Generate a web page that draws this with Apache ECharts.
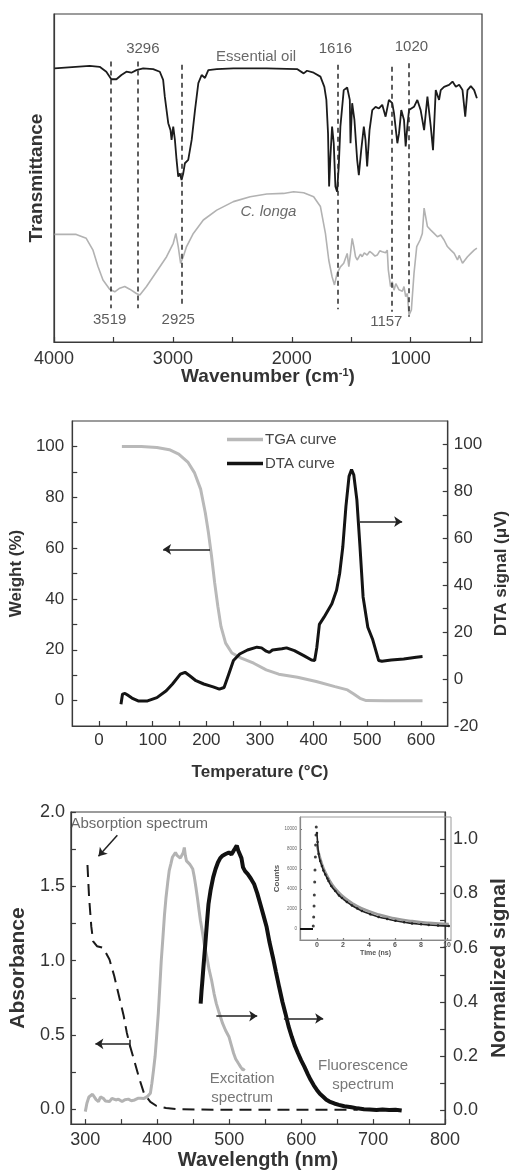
<!DOCTYPE html>
<html><head><meta charset="utf-8">
<script src="https://cdn.jsdelivr.net/npm/echarts@6/dist/echarts.min.js"></script>
<style>html,body{margin:0;padding:0;background:#fff}#c{width:518px;height:1171px}</style>
</head><body><div id="c"></div>
<script>
// ---------- Panel 1: FTIR (wavenumber cm-1, transmittance a.u.) ----------
const oilSpectrum = [[3996,83.4],[3700,84.2],[3616,83.9],[3560,82.4],[3518,80.1],[3475,80.1],[3433,81.4],[3391,82.4],[3349,82.1],[3307,82.9],[3250,83.4],[3166,83.2],[3110,82.4],[3082,79.9],[3068,74.8],[3039,66.7],[3020,64.6],[3011,61.6],[2997,65.7],[2983,61.6],[2969,55.5],[2955,50.4],[2941,51.4],[2927,49.4],[2913,51.4],[2899,54.5],[2871,55.5],[2842,61.6],[2814,70.7],[2786,78.9],[2758,81.4],[2730,80.5],[2702,82.9],[2631,83.2],[2491,83.4],[2210,83.4],[1956,83.2],[1900,81.9],[1872,82.7],[1816,82.1],[1759,80.9],[1726,77.8],[1709,73.8],[1695,63.6],[1686,47.4],[1675,56.5],[1661,65.7],[1647,60.6],[1633,47.4],[1619,45.8],[1605,53.5],[1591,65.7],[1563,76.8],[1534,77.6],[1512,73.8],[1506,60.6],[1492,72.8],[1473,67.7],[1450,55.5],[1436,50.9],[1416,58.5],[1394,65.7],[1380,61.6],[1366,53.5],[1346,64.6],[1323,70.7],[1295,71.7],[1267,71.2],[1239,72.3],[1211,68.7],[1183,73.8],[1155,72.8],[1140,69.7],[1112,60.6],[1098,63.6],[1079,70.7],[1056,67.7],[1042,59.6],[1028,65.7],[1014,70.7],[972,71.7],[944,73.8],[916,70.7],[887,64.6],[859,74.8],[831,65.7],[812,58.5],[789,76.8],[761,73.8],[747,76.8],[719,77.8],[677,78.4],[648,79.4],[620,77.8],[592,78.4],[564,76.8],[541,68.7],[522,76.8],[494,78.0],[466,76.8],[443,74.3]];
const longaSpectrum = [[3996,32.8],[3813,32.8],[3729,31.6],[3672,28.0],[3630,23.0],[3588,18.9],[3532,16.1],[3489,15.3],[3447,16.4],[3405,16.9],[3363,16.1],[3307,14.8],[3278,14.3],[3222,16.9],[3138,21.4],[3053,26.0],[2997,30.1],[2975,33.1],[2955,29.1],[2935,24.0],[2913,26.0],[2885,29.1],[2828,33.1],[2744,37.2],[2631,40.2],[2491,42.8],[2350,44.3],[2210,45.1],[2069,45.3],[1985,45.8],[1900,45.5],[1816,44.3],[1759,41.3],[1717,33.1],[1689,25.0],[1661,19.9],[1641,17.4],[1619,20.9],[1591,22.9],[1563,24.0],[1534,27.0],[1520,23.0],[1506,27.0],[1492,31.6],[1478,29.1],[1464,26.0],[1450,25.0],[1436,25.5],[1422,26.8],[1408,26.0],[1390,27.2],[1366,26.5],[1345,27.6],[1323,27.0],[1300,26.2],[1281,26.5],[1260,27.8],[1239,27.5],[1211,27.2],[1197,28.0],[1188,22.0],[1169,16.9],[1155,18.4],[1140,15.8],[1125,17.8],[1112,17.4],[1098,15.9],[1084,16.4],[1070,15.5],[1056,16.9],[1042,13.8],[1028,14.8],[1014,8.2],[994,9.8],[972,20.9],[949,29.1],[921,31.1],[902,33.1],[887,40.8],[873,41.3],[859,35.2],[845,34.6],[831,34.1],[803,33.1],[775,32.1],[747,32.6],[719,31.1],[691,29.1],[662,28.0],[634,27.0],[606,25.0],[592,26.4],[578,26.0],[564,24.0],[550,24.5],[522,26.0],[494,27.0],[466,28.0],[443,28.6]];
const peakWavenumbers = [3519, 3296, 2925, 1616, 1157, 1020];
const peakLineTop = [85.5, 85.5, 84.5, 84.5, 83.9, 85.0];
const peakLineBottom = [10.3, 10.3, 10.8, 10.0, 9.2, 7.7];
const ftirTicks = [500,1000,1500,2000,2500,3000,3500,4000];
const ftirLabels = [1000,2000,3000,4000];

// ---------- Panel 2: TGA / DTA ----------
const tgaCurve = [[42.5,100],[78.6,100],[107.8,99.6],[131,98.7],[148.5,97],[166,93.7],[177.7,89.7],[189.3,83.2],[198,73.9],[203.9,66],[209.7,56.8],[215.5,46.3],[221.4,37.1],[227.2,29.2],[235.9,22.6],[247.6,18.7],[265,16.7],[288.3,14.7],[311.6,12.1],[335,10.4],[369.9,9.2],[404.9,7.5],[439.8,5.5],[463.1,4.2],[474.8,2.6],[486.4,0.9],[498,0],[533,-0.1],[603,-0.1]];
const dtaCurve = [[40.8,-10.7],[43.7,-6.4],[48.3,-6.1],[52.4,-6.7],[61.2,-8.1],[72.8,-9.3],[90.3,-9.3],[107.8,-7.9],[125.2,-5],[136.9,-2.1],[151.5,2.1],[160.2,2.9],[168.9,1.4],[180.6,-0.7],[195.1,-2.1],[212.6,-3.3],[224.3,-4.3],[233,-3.6],[241.7,2.1],[250.5,7.9],[262.1,10.7],[276.7,12.4],[294.2,13.6],[302.9,13.3],[311.6,11.9],[317.5,11.4],[323.3,12.4],[340.8,12.9],[349.5,13.3],[364.1,12.1],[381.6,10],[396.1,8.1],[401.9,7.9],[406,13.6],[410.7,23.3],[419.4,26.4],[434,32.1],[442.7,37.9],[448.5,45],[454.4,56.4],[460.2,73.6],[466,86.4],[470.7,89.3],[474.8,87.1],[480.6,76.4],[486.4,56.4],[492.2,35],[501,22.1],[509.7,17.1],[521.3,7.9],[527.2,7.6],[544.6,8.1],[567.9,8.6],[591.2,9.3],[603,9.6]];
const tempTicks = [0,50,100,150,200,250,300,350,400,450,500,550,600];
const tempLabels = [0,100,200,300,400,500,600];
const weightTicks = [0,10,20,30,40,50,60,70,80,90,100];
const weightLabels = [0,20,40,60,80,100];
const dtaTicks = [-10,0,10,20,30,40,50,60,70,80,90,100];
const dtaLabels = [-20,0,20,40,60,80,100];

// ---------- Panel 3: optical spectra ----------
const absorption = [[303,1.643],[305.2,1.43],[308.3,1.23],[310.9,1.13],[316.2,1.097],[324.9,1.086],[333.6,1.008],[340.2,0.896],[346.7,0.763],[353.3,0.629],[357.6,0.517],[362,0.428],[368.6,0.317],[375.1,0.205],[381.7,0.105],[390.4,0.049],[399.1,0.022],[412.2,0.009],[429.7,0],[503.9,-0.004],[678.6,-0.004]];
const excitation = [[300,-0.004],[302.2,0.027],[305,0.05],[307.4,0.045],[310,0.06],[312.7,0.058],[315,0.04],[318.3,0.033],[321,0.05],[324.9,0.045],[328,0.035],[333.6,0.033],[337,0.045],[342.4,0.039],[346,0.042],[351.1,0.033],[355,0.04],[359.8,0.042],[364,0.036],[368.6,0.039],[373,0.045],[377.3,0.045],[381,0.044],[386,0.051],[390.4,0.064],[392.5,0.1],[394.8,0.149],[397,0.2],[399.1,0.272],[401.5,0.36],[403.5,0.455],[405.5,0.55],[407.9,0.639],[410,0.72],[412.2,0.786],[414.5,0.84],[416.6,0.884],[419,0.91],[421,0.933],[423,0.94],[425.3,0.951],[427.5,0.94],[429.7,0.945],[432,0.93],[434.1,0.927],[436,0.95],[437.6,0.969],[439,0.94],[440.6,0.92],[443,0.915],[445,0.908],[447,0.9],[449.3,0.89],[451.5,0.86],[453.7,0.823],[456,0.78],[458.1,0.737],[460,0.7],[462.4,0.663],[465.5,0.61],[469,0.565],[472,0.52],[475.5,0.48],[479,0.43],[482.1,0.394],[486,0.36],[490.8,0.321],[495,0.295],[499.6,0.272],[503,0.24],[506.1,0.211],[509,0.19],[512.7,0.174],[516,0.16],[519.2,0.149],[521.4,0.155]];
const fluorescence = [[460.3,0.394],[461.5,0.44],[462.4,0.468],[464.5,0.54],[466.8,0.614],[469,0.69],[471.2,0.761],[474,0.81],[477.7,0.859],[481,0.89],[484.3,0.914],[487.5,0.93],[490.8,0.939],[495,0.945],[499.6,0.951],[503,0.944],[506.1,0.957],[508,0.965],[510.5,0.976],[512.5,0.958],[514.8,0.951],[517,0.93],[519.2,0.896],[522,0.882],[525.8,0.871],[530,0.855],[534.5,0.835],[539,0.8],[543.2,0.761],[547.5,0.72],[552,0.676],[556,0.62],[560.7,0.565],[565,0.51],[569.4,0.455],[574,0.4],[578.2,0.357],[582.5,0.31],[586.9,0.272],[591,0.24],[595.6,0.211],[600,0.185],[604.4,0.162],[609,0.135],[613.1,0.113],[617.5,0.093],[621.8,0.076],[626,0.062],[630.6,0.051],[635,0.04],[639.3,0.033],[646,0.026],[652.4,0.021],[660,0.016],[669.9,0.012],[678,0.008],[687.3,0.005],[695,0.004],[704.8,0.002],[713,0.004],[722.3,0.002],[731,0.003],[739.7,0]];
const wlTicks = [300,350,400,450,500,550,600,650,700,750,800];
const wlLabels = [300,400,500,600,700,800];
const absTicks = [0,0.25,0.5,0.75,1,1.25,1.5,1.75,2];
const absLabels = [0,0.5,1,1.5,2];
const normTicks = [0,0.1,0.2,0.3,0.4,0.5,0.6,0.7,0.8,0.9,1];
const normLabels = [0,0.2,0.4,0.6,0.8,1];

// ---------- Inset: fluorescence decay ----------
const decayBaseline = [[-1.3,0],[-0.3,0]];
const decayRise = [[-0.28,300],[-0.25,1200],[-0.22,2300],[-0.2,3400],[-0.17,4700],[-0.15,5900],[-0.12,7200],[-0.1,8400],[-0.07,9400],[-0.05,10200]];
const decayData = [[0,9600],[0.05,8700],[0.13,7500],[0.25,6800],[0.38,6300],[0.5,5850],[0.64,5450],[0.8,5050],[0.89,4800],[1.1,4300],[1.41,3800],[1.7,3350],[1.92,3100],[2.3,2700],[2.69,2350],[3.1,2050],[3.46,1800],[4.1,1480],[4.74,1200],[5.4,1000],[6.03,820],[6.7,680],[7.31,560],[8,470],[8.59,400],[9.3,340],[10.13,290]];
const decayFit = [[0,8300],[0.25,7100],[0.5,6100],[0.8,5300],[1.1,4600],[1.41,4050],[1.92,3350],[2.69,2600],[3.46,2050],[4.74,1450],[6.03,1050],[7.31,790],[8.59,620],[10.13,500]];
const timeTicks = [0,2,4,6,8,10];
const countTicks = [0,2000,4000,6000,8000,10000];

const FONT = '"Liberation Sans", Arial, Helvetica, sans-serif';
const AXC = '#3a3a3a';
const TXT = '#333';

function axis(o) {
  const a = {
    type: 'value', gridIndex: o.grid, min: o.min, max: o.max, inverse: !!o.inverse,
    position: o.position,
    axisLine: {show: true, onZero: false, lineStyle: {color: o.lineColor || AXC, width: 1.2}},
    axisTick: {show: o.ticks !== null, inside: true, length: o.tickLen || 5, customValues: o.ticks || undefined,
      lineStyle: {color: o.lineColor || AXC, width: 1.2}},
    axisLabel: {show: !!o.labels, customValues: o.labels || undefined, showMinLabel: true, showMaxLabel: true,
      margin: o.margin == null ? 7 : o.margin, color: o.labelColor || TXT, fontFamily: FONT, fontSize: o.fontSize || 17,
      fontWeight: o.labelWeight || 'normal', formatter: o.fmt || (v => String(v))},
    splitLine: {show: false},
    name: o.name, nameLocation: 'middle', nameGap: o.nameGap, nameRotate: o.nameRotate,
    nameTextStyle: Object.assign({fontFamily: FONT, fontWeight: 'bold', fontSize: o.nameSize || 19, color: TXT}, o.nameStyle || {})
  };
  if (o.noMove) a.nameMoveOverlap = false;
  return a;
}

function textSeries(xi, yi, items) {
  return {
    type: 'scatter', xAxisIndex: xi, yAxisIndex: yi, symbol: 'circle', symbolSize: 1, silent: true, z: 6,
    itemStyle: {color: 'rgba(0,0,0,0)'},
    data: items.map(it => ({
      value: [it.x, it.y],
      label: {show: true, position: 'inside', formatter: it.text, align: 'center', verticalAlign: 'middle',
        fontFamily: FONT, fontSize: it.size || 15, fontStyle: it.italic ? 'italic' : 'normal',
        color: it.color || TXT, lineHeight: it.lh || 18}
    }))
  };
}

function arrow(a, b, tail) {
  return [{coord: a, symbol: tail || 'none'}, {coord: b, symbol: 'arrow'}];
}

const peakLines = peakWavenumbers.map((w, i) => [{coord: [w, peakLineTop[i]]}, {coord: [w, peakLineBottom[i]]}]);

const option = {
  animation: false,
  backgroundColor: '#fff',
  grid: [
    {left: 54, top: 14, width: 428, height: 328, show: true, borderColor: AXC, borderWidth: 1.2},
    {left: 66, top: 421, width: 401, height: 305, show: true, borderColor: AXC, borderWidth: 1.2},
    {left: 63, top: 812, width: 396, height: 313, show: true, borderColor: AXC, borderWidth: 1.2},
    {left: 300, top: 817, width: 151, height: 123, show: true, borderColor: '#9a9a9a', borderWidth: 1, z: 3, backgroundColor: 'rgba(255,255,255,0)'}
  ],
  legend: {
    data: [
      {name: 'TGA curve', icon: 'rect', itemStyle: {color: '#b9b9b9'}},
      {name: 'DTA curve', icon: 'rect', itemStyle: {color: '#141414'}}
    ],
    orient: 'vertical', left: 222, top: 427,
    itemWidth: 36, itemHeight: 3.5, itemGap: 9,
    textStyle: {fontFamily: FONT, fontSize: 15, color: '#444', padding: [0, 0, 0, -3]}
  },
  xAxis: [
    axis({grid: 0, min: 400, max: 4000, inverse: true, ticks: ftirTicks, labels: ftirLabels, fontSize: 18, margin: 8,
      name: 'Wavenumber (cm{sup|-1})', nameGap: 25, nameSize: 19, noMove: true,
      nameStyle: {rich: {sup: {fontSize: 11, fontWeight: 'bold', fontFamily: FONT, color: TXT, verticalAlign: 'top'}}}}),
    axis({grid: 1, min: -50, max: 650, ticks: tempTicks, labels: tempLabels, fontSize: 17, margin: 6,
      name: 'Temperature (°C)', nameGap: 38, nameSize: 17}),
    axis({grid: 2, min: 280, max: 800, ticks: wlTicks, labels: wlLabels, fontSize: 18, margin: 7,
      name: 'Wavelength (nm)', nameGap: 23, nameSize: 20}),
    axis({grid: 3, min: -1.3, max: 10.3, ticks: timeTicks, labels: timeTicks, fontSize: 7, margin: 2, tickLen: 2,
      lineColor: '#777', labelColor: '#555', labelWeight: 'bold', name: 'Time (ns)', nameGap: 10, nameSize: 7, nameStyle: {color: '#555'}})
  ],
  yAxis: [
    axis({grid: 0, min: 0, max: 100, ticks: null, labels: null, name: 'Transmittance', nameGap: 8, nameSize: 19}),
    axis({grid: 1, min: -10, max: 110, ticks: weightTicks, labels: weightLabels, fontSize: 17, margin: 8,
      name: 'Weight (%)', nameGap: 37, nameSize: 17}),
    axis({grid: 1, min: -20, max: 110, position: 'right', ticks: dtaTicks, labels: dtaLabels, fontSize: 17, margin: 6,
      name: 'DTA signal (μV)', nameGap: 43, nameSize: 17, nameRotate: 90}),
    axis({grid: 2, min: -0.1, max: 2.0, ticks: absTicks, labels: absLabels, fontSize: 18, margin: 6,
      fmt: v => v.toFixed(1), name: 'Absorbance', nameGap: 26, nameSize: 21}),
    axis({grid: 2, min: -0.05, max: 1.1, position: 'right', ticks: normTicks, labels: normLabels, fontSize: 18, margin: 8,
      fmt: v => v.toFixed(1), name: 'Normalized signal', nameGap: 32, nameSize: 21, nameRotate: 90}),
    axis({grid: 3, min: -1100, max: 11200, ticks: countTicks, labels: countTicks, fontSize: 4.5, margin: 3, tickLen: 2,
      lineColor: '#777', labelColor: '#666', name: 'Counts', nameGap: 12, nameSize: 8, nameStyle: {color: '#555'}})
  ],
  series: [
    {name: 'Essential oil', type: 'line', xAxisIndex: 0, yAxisIndex: 0, data: oilSpectrum, symbol: 'none',
      lineStyle: {color: '#1c1c1c', width: 1.8}, z: 3,
      markLine: {silent: true, symbol: ['none', 'none'], label: {show: false},
        lineStyle: {color: '#2a2a2a', width: 1.5, type: [5, 4]}, data: peakLines}},
    {name: 'C. longa', type: 'line', xAxisIndex: 0, yAxisIndex: 0, data: longaSpectrum, symbol: 'none',
      lineStyle: {color: '#b2b2b2', width: 1.6}, z: 2},
    textSeries(0, 0, [
      {x: 3253, y: 89.3, text: String(peakWavenumbers[1])},
      {x: 1633, y: 89.5, text: String(peakWavenumbers[3])},
      {x: 994, y: 90.0, text: String(peakWavenumbers[5])},
      {x: 3532, y: 6.7, text: String(peakWavenumbers[0])},
      {x: 2955, y: 6.9, text: String(peakWavenumbers[2])},
      {x: 1205, y: 6.2, text: String(peakWavenumbers[4])},
      {x: 2300, y: 86.8, text: 'Essential oil', color: '#444'},
      {x: 2196, y: 39.7, text: 'C. longa', italic: true, color: '#444'}
    ]),
    {name: 'TGA curve', type: 'line', xAxisIndex: 1, yAxisIndex: 1, data: tgaCurve, symbol: 'none',
      lineStyle: {color: '#b9b9b9', width: 3}, itemStyle: {color: '#b9b9b9'}, z: 2,
      markLine: {silent: true, symbolSize: 8, label: {show: false}, lineStyle: {color: '#222', width: 1.5, type: 'solid'},
        data: [arrow([206.8, 59.5], [119.4, 59.5])]}},
    {name: 'DTA curve', type: 'line', xAxisIndex: 1, yAxisIndex: 2, data: dtaCurve, symbol: 'none',
      lineStyle: {color: '#141414', width: 3}, itemStyle: {color: '#141414'}, z: 3,
      markLine: {silent: true, symbolSize: 8, label: {show: false}, lineStyle: {color: '#222', width: 1.5, type: 'solid'},
        data: [arrow([486.4, 67.1], [565, 67.1])]}},
    {name: 'Absorption spectrum', type: 'line', xAxisIndex: 2, yAxisIndex: 3, data: absorption, symbol: 'none',
      lineStyle: {color: '#1a1a1a', width: 2, type: [12, 7]}, z: 3,
      markLine: {silent: true, symbolSize: 8, label: {show: false}, lineStyle: {color: '#222', width: 1.5, type: 'solid'},
        data: [
          arrow([362, 0.44], [314, 0.44]),
          [{coord: [362, 0.468], symbol: 'none'}, {coord: [362, 0.417], symbol: 'none'}],
          arrow([344.5, 1.844], [318.3, 1.703])
        ]}},
    {name: 'Excitation spectrum', type: 'line', xAxisIndex: 2, yAxisIndex: 4, data: excitation, symbol: 'none',
      lineStyle: {color: '#b3b3b3', width: 3}, z: 2,
      markLine: {silent: true, symbolSize: 8, label: {show: false}, lineStyle: {color: '#222', width: 1.5, type: 'solid'},
        data: [arrow([482.1, 0.348], [538.9, 0.348])]}},
    {name: 'Fluorescence spectrum', type: 'line', xAxisIndex: 2, yAxisIndex: 4, data: fluorescence, symbol: 'none',
      lineStyle: {color: '#111', width: 4}, z: 3,
      markLine: {silent: true, symbolSize: 8, label: {show: false}, lineStyle: {color: '#222', width: 1.5, type: 'solid'},
        data: [arrow([576, 0.339], [630.6, 0.339])]}},
    textSeries(2, 4, [
      {x: 375, y: 1.055, text: 'Absorption spectrum', color: '#444'},
      {x: 518, y: 0.08, text: 'Excitation\nspectrum', color: '#555', lh: 19},
      {x: 686, y: 0.129, text: 'Fluorescence\nspectrum', color: '#555', lh: 19}
    ]),
    {type: 'line', xAxisIndex: 3, yAxisIndex: 5, data: decayBaseline, symbol: 'none',
      lineStyle: {color: '#111', width: 2}, z: 7},
    {type: 'scatter', xAxisIndex: 3, yAxisIndex: 5, data: decayRise, symbolSize: 3,
      itemStyle: {color: '#111'}, z: 7},
    {type: 'line', xAxisIndex: 3, yAxisIndex: 5, data: decayFit, symbol: 'none', smooth: true,
      lineStyle: {color: '#9a9a9a', width: 2.5}, z: 7},
    {type: 'line', xAxisIndex: 3, yAxisIndex: 5, data: decayData, symbol: 'circle', symbolSize: 2.5, smooth: true,
      lineStyle: {color: '#222', width: 1.6}, itemStyle: {color: '#222'}, z: 8}
  ]
};

const chart = echarts.init(document.getElementById('c'), null, {renderer: 'canvas'});
chart.setOption(option);
</script></body></html>
